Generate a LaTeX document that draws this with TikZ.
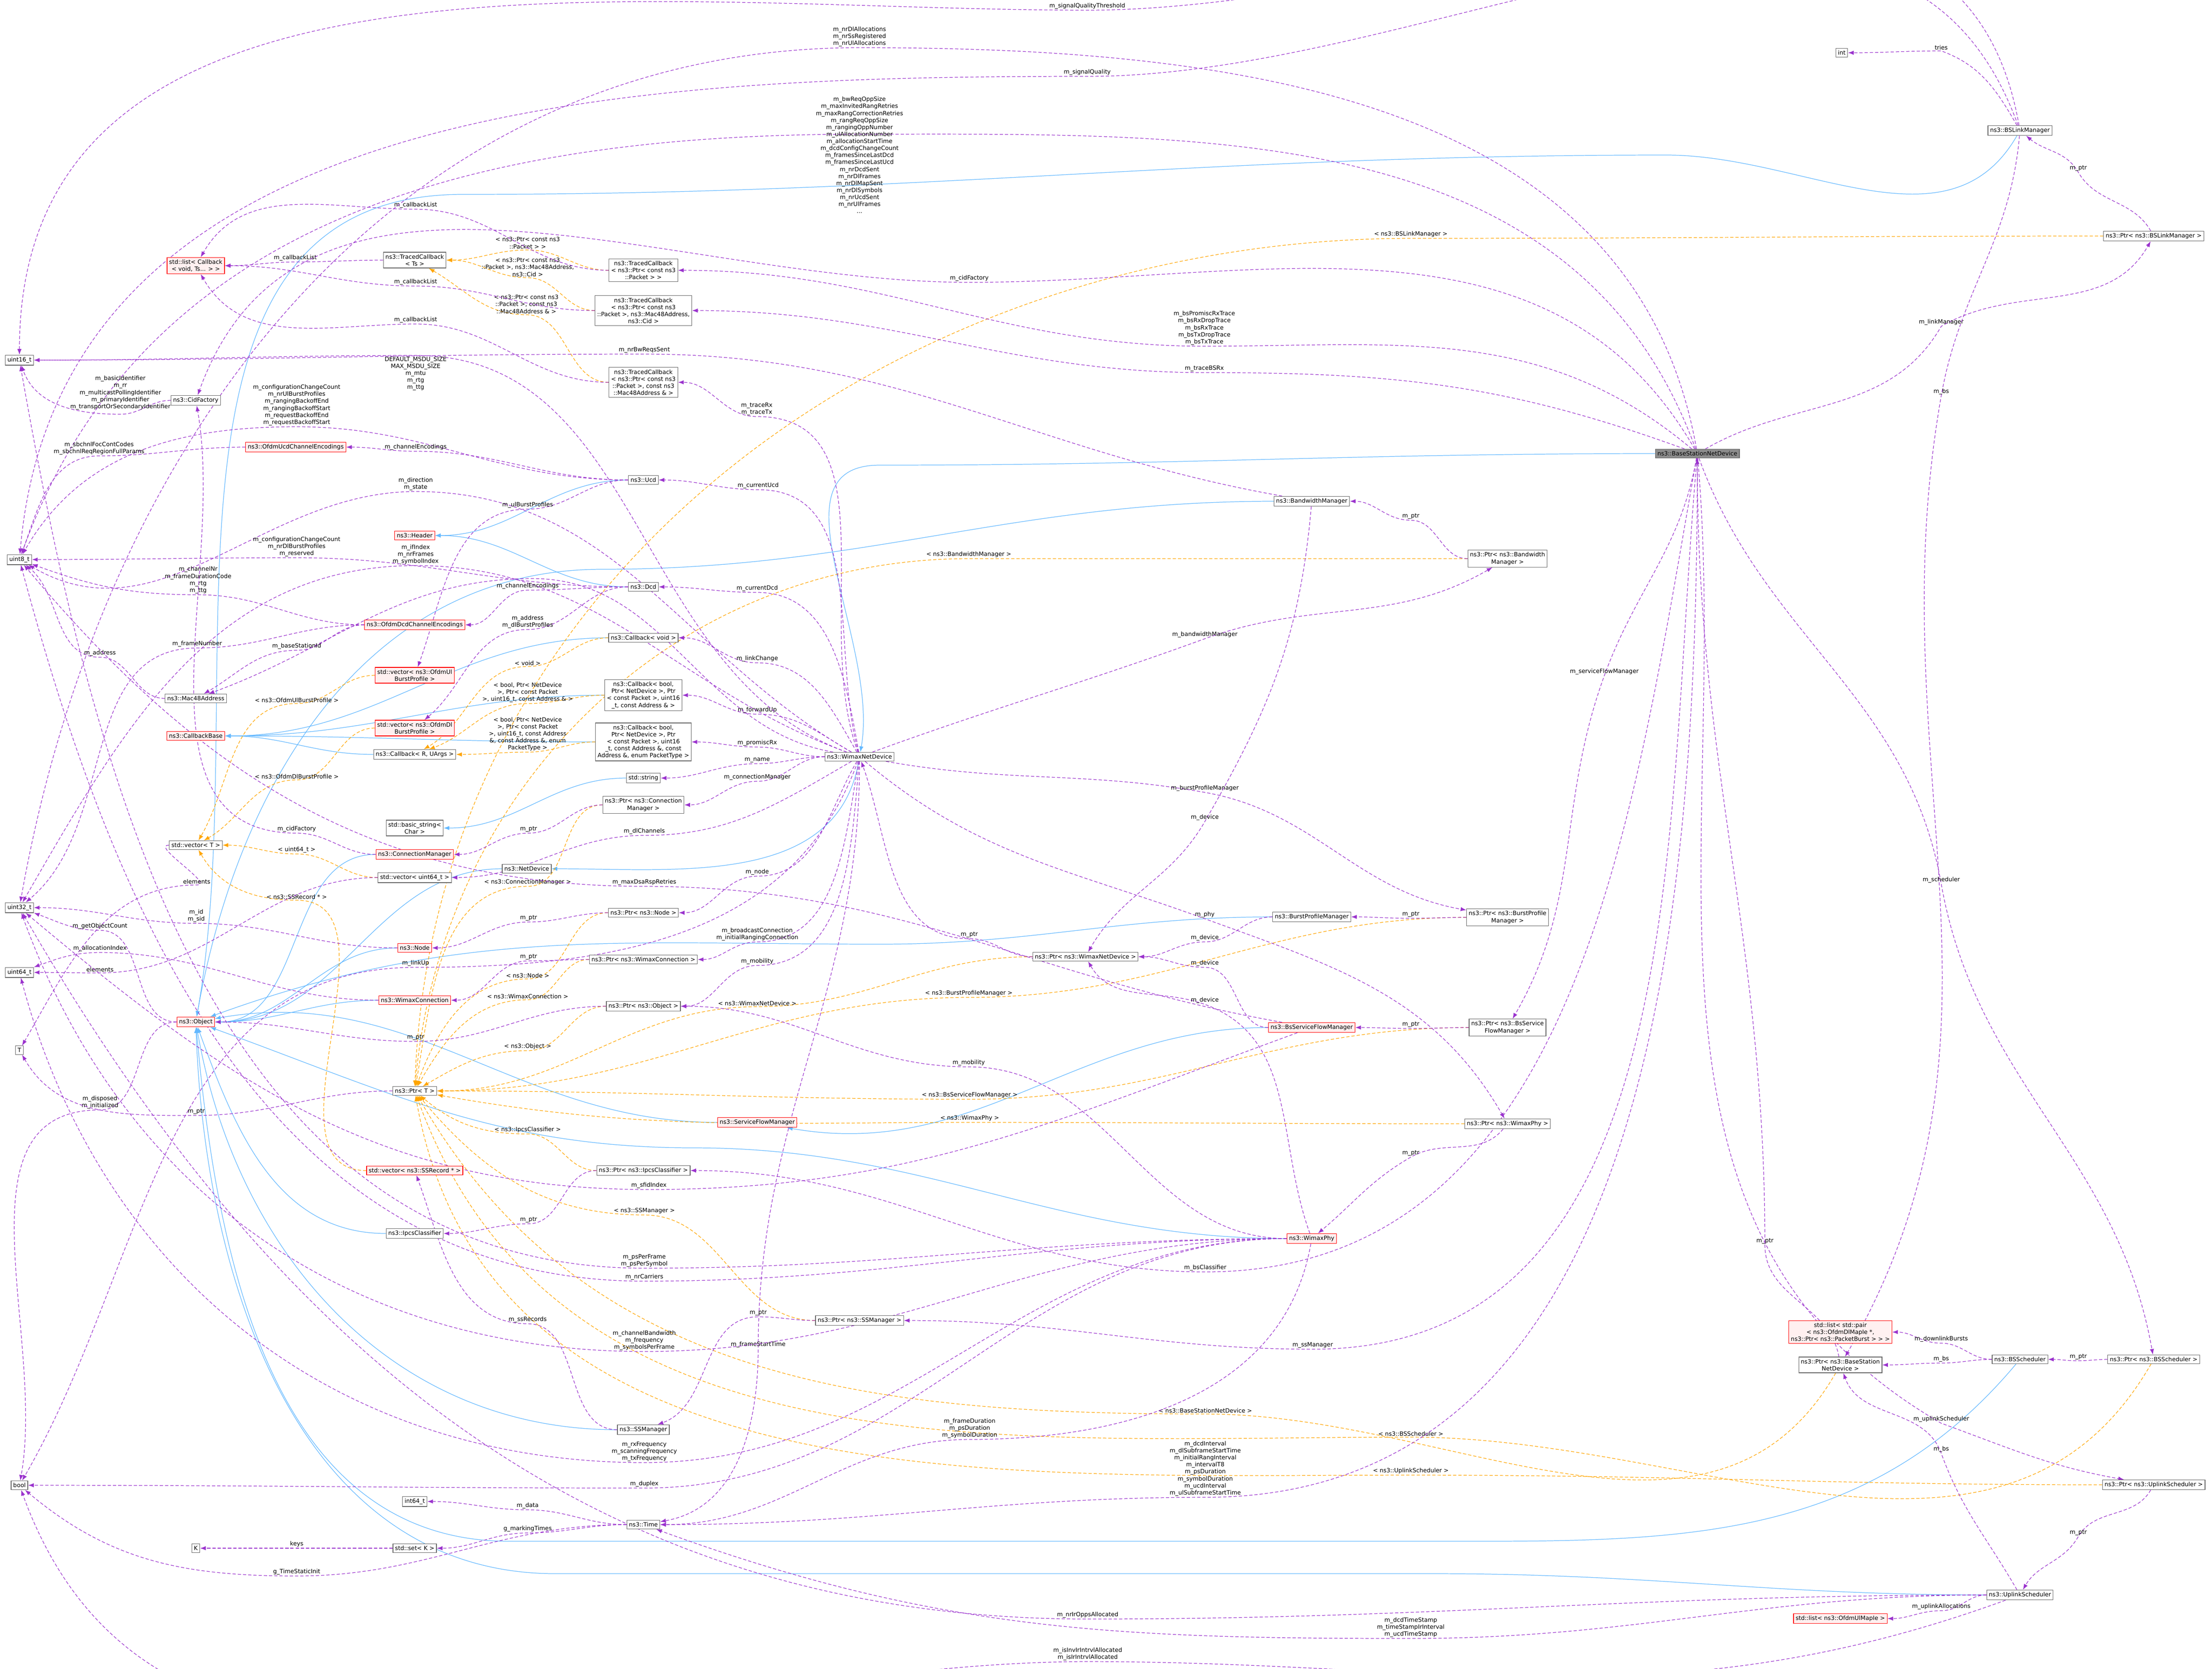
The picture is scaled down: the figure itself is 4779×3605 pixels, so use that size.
\documentclass[tikz,border=0pt]{standalone}
\usepackage{fontspec}
\setmainfont{DejaVu Sans}
\usepackage{tikz}
\usetikzlibrary{arrows.meta}
\pgfdeclarelayer{edges}
\pgfsetlayers{edges,main}
\definecolor{memc}{HTML}{9A32CD}
\definecolor{inhc}{HTML}{63B8FF}
\definecolor{tplc}{HTML}{FFA500}
\tikzset{
	every node/.style={align=center, font=\fontsize{3.6}{4.3}\selectfont},
	%
	cls/.style={draw=black!60, fill=white, line width=0.35pt, inner sep=1.3pt},
	redcls/.style={cls, draw=red, fill=red!6},
	maincls/.style={cls, fill=black!45},
	lbl/.style={inner sep=0.6pt, anchor=south, text=black},
	%
	mem/.style={memc, dashed, dash pattern=on 2pt off 1.2pt, line width=0.35pt,
		-{Latex[length=3.5pt,width=2.6pt]}, out=180, in=0},
	tpl/.style={mem, tplc},
	inh/.style={inhc, line width=0.35pt, -{Latex[length=3.5pt,width=2.6pt]},
		out=180, in=0},
}
\begin{document}
\begin{tikzpicture}[x=0.01cm, y=-0.01cm]
	\useasboundingbox (0,0) rectangle (4779,3605);
	% left column of plain types
	\node (u16) [cls] at (42,778) {uint16\_t};
	\node (u8) [cls] at (42,1209) {uint8\_t};
	\node (u32) [cls] at (42,1961) {uint32\_t};
	\node (u64) [cls] at (42,2101) {uint64\_t};
	\node (tT) [cls] at (42,2269) {T};
	\node (bool) [cls] at (42,3209) {bool};
	% second column
	\node (stdlist) [redcls] at (423,574) {std::list< Callback\\< void, Ts... > >};
	\node (cidf) [cls] at (423,865) {ns3::CidFactory};
	\node (ucdenc) [redcls] at (639,966) {ns3::OfdmUcdChannelEncodings};
	\node (mac) [cls] at (423,1509) {ns3::Mac48Address};
	\node (cbbase) [redcls] at (423,1590) {ns3::CallbackBase};
	\node (vecT) [cls] at (423,1826) {std::vector< T >};
	\node (obj) [redcls] at (423,2208) {ns3::Object};
	\node (K) [cls] at (423,3345) {K};
	% third column
	\node (tcTs) [cls] at (896,562) {ns3::TracedCallback\\< Ts >};
	\node (header) [redcls] at (896,1157) {ns3::Header};
	\node (dcdenc) [redcls] at (896,1350) {ns3::OfdmDcdChannelEncodings};
	\node (vecul) [redcls] at (896,1459) {std::vector< ns3::OfdmUl\\BurstProfile >};
	\node (vecdl) [redcls] at (896,1573) {std::vector< ns3::OfdmDl\\BurstProfile >};
	\node (cbR) [cls] at (896,1630) {ns3::Callback< R, UArgs >};
	\node (bstr) [cls] at (896,1789) {std::basic\_string<\\Char >};
	\node (cm) [redcls] at (896,1846) {ns3::ConnectionManager};
	\node (vecu64) [cls] at (896,1896) {std::vector< uint64\_t >};
	\node (node) [redcls] at (896,2048) {ns3::Node};
	\node (wc) [redcls] at (896,2161) {ns3::WimaxConnection};
	\node (ptrT) [cls] at (896,2357) {ns3::Ptr< T >};
	\node (vecss) [redcls] at (896,2529) {std::vector< ns3::SSRecord * >};
	\node (ipcs) [cls] at (896,2665) {ns3::IpcsClassifier};
	\node (int64) [cls] at (896,3244) {int64\_t};
	\node (setK) [cls] at (896,3345) {std::set< K >};
	\node (netdev) [cls] at (1138,1877) {ns3::NetDevice};
	% fourth column
	\node (tcP) [cls] at (1390,584) {ns3::TracedCallback\\< ns3::Ptr< const ns3\\::Packet > >};
	\node (tcMC) [cls] at (1390,671) {ns3::TracedCallback\\< ns3::Ptr< const ns3\\::Packet >, ns3::Mac48Address,\\ns3::Cid >};
	\node (tcMA) [cls] at (1390,826) {ns3::TracedCallback\\< ns3::Ptr< const ns3\\::Packet >, const ns3\\::Mac48Address \& >};
	\node (ucd) [cls] at (1390,1037) {ns3::Ucd};
	\node (dcd) [cls] at (1390,1268) {ns3::Dcd};
	\node (cbvoid) [cls] at (1390,1378) {ns3::Callback< void >};
	\node (cbfwd) [cls] at (1390,1502) {ns3::Callback< bool,\\Ptr< NetDevice >, Ptr\\< const Packet >, uint16\\\_t, const Address \& >};
	\node (cbprom) [cls] at (1390,1603) {ns3::Callback< bool,\\Ptr< NetDevice >, Ptr\\< const Packet >, uint16\\\_t, const Address \&, const\\Address \&, enum PacketType >};
	\node (str) [cls] at (1390,1681) {std::string};
	\node (ptrcm) [cls] at (1390,1739) {ns3::Ptr< ns3::Connection\\Manager >};
	\node (ptrnode) [cls] at (1390,1972) {ns3::Ptr< ns3::Node >};
	\node (ptrwc) [cls] at (1390,2073) {ns3::Ptr< ns3::WimaxConnection >};
	\node (ptrobj) [cls] at (1390,2174) {ns3::Ptr< ns3::Object >};
	\node (ptripcs) [cls] at (1390,2529) {ns3::Ptr< ns3::IpcsClassifier >};
	\node (ssm) [cls] at (1390,3089) {ns3::SSManager};
	\node (time) [cls] at (1390,3294) {ns3::Time};
	% middle
	\node (wnd) [cls] at (1857,1635) {ns3::WimaxNetDevice};
	\node (sfm) [redcls] at (1636,2425) {ns3::ServiceFlowManager};
	\node (ptrss) [cls] at (1857,2853) {ns3::Ptr< ns3::SSManager >};
	\node (ptrwnd) [cls] at (2345,2067) {ns3::Ptr< ns3::WimaxNetDevice >};
	\node (bwm) [cls] at (2834,1083) {ns3::BandwidthManager};
	\node (bpm) [cls] at (2834,1981) {ns3::BurstProfileManager};
	\node (bsfm) [redcls] at (2834,2220) {ns3::BsServiceFlowManager};
	\node (phy) [redcls] at (2834,2676) {ns3::WimaxPhy};
	\node (ptrbwm) [cls] at (3257,1207) {ns3::Ptr< ns3::Bandwidth\\Manager >};
	\node (ptrbpm) [cls] at (3257,1982) {ns3::Ptr< ns3::BurstProfile\\Manager >};
	\node (ptrbsfm) [cls] at (3257,2220) {ns3::Ptr< ns3::BsService\\FlowManager >};
	\node (ptrphy) [cls] at (3257,2428) {ns3::Ptr< ns3::WimaxPhy >};
	% right part
	\node (bsnd) [maincls] at (3667,980) {ns3::BaseStationNetDevice};
	\node (int) [cls] at (3979,114) {int};
	\node (bslm) [cls] at (4364,282) {ns3::BSLinkManager};
	\node (ptrbslm) [cls] at (4653,510) {ns3::Ptr< ns3::BSLinkManager >};
	\node (dlbursts) [redcls] at (3976,2878) {std::list< std::pair\\< ns3::OfdmDlMapIe *,\\ns3::Ptr< ns3::PacketBurst > > >};
	\node (ptrbsnd) [cls] at (3976,2949) {ns3::Ptr< ns3::BaseStation\\NetDevice >};
	\node (bss) [cls] at (4364,2937) {ns3::BSScheduler};
	\node (ptrbss) [cls] at (4653,2937) {ns3::Ptr< ns3::BSScheduler >};
	\node (ptrul) [cls] at (4653,3208) {ns3::Ptr< ns3::UplinkScheduler >};
	\node (uls) [cls] at (4364,3446) {ns3::UplinkScheduler};
	\node (ulmap) [redcls] at (3976,3497) {std::list< ns3::OfdmUlMapIe >};

	\begin{pgfonlayer}{edges}
	% inheritance
	\draw [inh] (ucd) to (header);
	\draw [inh] (dcd) to (header);
	\draw [inh] (cbvoid) to (cbbase);
	\draw [inh] (cbfwd) to (cbbase);
	\draw [inh] (cbprom) to (cbbase);
	\draw [inh] (cbR) to (cbbase);
	\draw [inh] (str) to (bstr);
	\draw [inh] (cm) to (obj);
	\draw [inh] (node) to (obj);
	\draw [inh] (wc) to (obj);
	\draw [inh] (netdev) to (obj);
	\draw [inh] (wnd) to[out=-100] (netdev);
	\draw [inh] (bsnd) to[out=180] (1900,1005) to[out=180,in=80] (wnd);
	\draw [inh] (bslm) to[out=-120] (3600,335) to (1000,420) to[out=180,in=80] (obj);
	\draw [inh] (bwm) to (1300,1230) to[out=180,in=80] (obj);
	\draw [inh] (bpm) to (1900,2040) to[out=180,in=20] (obj);
	\draw [inh] (sfm) to[in=10] (obj);
	\draw [inh] (bsfm) to[in=-10] (sfm);
	\draw [inh] (ipcs) to[in=-70] (obj);
	\draw [inh] (ssm) to[in=-80] (obj);
	\draw [inh] (phy) to (1500,2480) to[out=180,in=-20] (obj);
	\draw [inh] (bss) to[out=-130] (3100,3330) to (1100,3330) to[out=180,in=-85] (obj);
	\draw [inh] (uls) to (3100,3400) to (1200,3400) to[out=180,in=-88] (obj);
	% template instances
	\draw [tpl] (tcP) to (1140,540) node [lbl] {< ns3::Ptr< const ns3\\::Packet > >} to (tcTs);
	\draw [tpl] (tcMC) to (1140,600) node [lbl] {< ns3::Ptr< const ns3\\::Packet >, ns3::Mac48Address,\\ns3::Cid >} to (tcTs);
	\draw [tpl] (tcMA) to (1137,680) node [lbl] {< ns3::Ptr< const ns3\\::Packet >, const ns3\\::Mac48Address \& >} to[in=-30] (tcTs);
	\draw [tpl] (vecul) to (641,1520) node [lbl] {< ns3::OfdmUlBurstProfile >} to[in=60] (vecT);
	\draw [tpl] (vecdl) to (641,1685) node [lbl] {< ns3::OfdmDlBurstProfile >} to[in=30] (vecT);
	\draw [tpl] (vecu64) to (641,1845) node [lbl] {< uint64\_t >} to (vecT);
	\draw [tpl] (vecss) to (641,1945) node [lbl] {< ns3::SSRecord * >} to[in=-60] (vecT);
	\draw [tpl] (cbvoid) to (1140,1440) node [lbl] {< void >} to[in=30] (cbR);
	\draw [tpl] (cbfwd) to (1140,1520) node [lbl] {< bool, Ptr< NetDevice\\>, Ptr< const Packet\\>, uint16\_t, const Address \& >} to[in=20] (cbR);
	\draw [tpl] (cbprom) to (1140,1625) node [lbl] {< bool, Ptr< NetDevice\\>, Ptr< const Packet\\>, uint16\_t, const Address\\\&, const Address \&, enum\\PacketType >} to (cbR);
	\draw [tpl] (ptrcm) to (1140,1915) node [lbl] {< ns3::ConnectionManager >} to[in=80] (ptrT);
	\draw [tpl] (ptrnode) to (1140,2115) node [lbl] {< ns3::Node >} to[in=70] (ptrT);
	\draw [tpl] (ptrwc) to (1140,2160) node [lbl] {< ns3::WimaxConnection >} to[in=60] (ptrT);
	\draw [tpl] (ptrobj) to (1140,2270) node [lbl] {< ns3::Object >} to[in=30] (ptrT);
	\draw [tpl] (ptripcs) to (1140,2450) node [lbl] {< ns3::IpcsClassifier >} to[in=-40] (ptrT);
	\draw [tpl] (ptrss) to (1392,2625) node [lbl] {< ns3::SSManager >} to[in=-50] (ptrT);
	\draw [tpl] (ptrwnd) to (1636,2175) node [lbl] {< ns3::WimaxNetDevice >} to (ptrT);
	\draw [tpl] (ptrbpm) to (2093,2155) node [lbl] {< ns3::BurstProfileManager >} to (ptrT);
	\draw [tpl] (ptrbsfm) to (2095,2375) node [lbl] {< ns3::BsServiceFlowManager >} to (ptrT);
	\draw [tpl] (ptrphy) to (2095,2425) node [lbl] {< ns3::WimaxPhy >} to[in=-10] (ptrT);
	\draw [tpl] (ptrbsnd) to[out=-120] (2604,3055) node [lbl] {< ns3::BaseStationNetDevice >} to[in=-60] (ptrT);
	\draw [tpl] (ptrbss) to[out=-120] (3048,3105) node [lbl] {< ns3::BSScheduler >} to[in=-70] (ptrT);
	\draw [tpl] (ptrul) to (3048,3187) node [lbl] {< ns3::UplinkScheduler >} to[in=-80] (ptrT);
	\draw [tpl] (ptrbwm) to (2093,1207) node [lbl] {< ns3::BandwidthManager >} to[in=85] (ptrT);
	\draw [tpl] (ptrbslm) to (3048,515) node [lbl] {< ns3::BSLinkManager >} to[in=88] (ptrT);
	% members: callbacks and traces
	\draw [mem] (tcP) to (898,452) node [lbl] {m\_callbackList} to[in=60] (stdlist);
	\draw [mem] (tcTs) to (638,566) node [lbl] {m\_callbackList} to (stdlist);
	\draw [mem] (tcMC) to (898,618) node [lbl] {m\_callbackList} to (stdlist);
	\draw [mem] (tcMA) to (898,700) node [lbl] {m\_callbackList} to[in=-60] (stdlist);
	% members: BaseStationNetDevice and BSLinkManager
	\draw [mem] (bslm) to[out=100] (2349,22) node [lbl] {m\_signalQualityThreshold} to[in=90] (u16);
	\draw [mem] (bsnd) to[out=100] (1857,103) node [lbl] {m\_nrDlAllocations\\m\_nrSsRegistered\\m\_nrUlAllocations} to[in=80] (u32);
	\draw [mem] (bslm) to[out=110] (2349,165) node [lbl] {m\_signalQuality} to[in=85] (u8);
	\draw [mem] (bsnd) to[out=110] (1857,290) node [lbl, anchor=center, yshift=-0.45cm] {m\_bwReqOppSize\\m\_maxInvitedRangRetries\\m\_maxRangCorrectionRetries\\m\_rangReqOppSize\\m\_rangingOppNumber\\m\_ulAllocationNumber\\m\_allocationStartTime\\m\_dcdConfigChangeCount\\m\_framesSinceLastDcd\\m\_framesSinceLastUcd\\m\_nrDcdSent\\m\_nrDlFrames\\m\_nrDlMapSent\\m\_nrDlSymbols\\m\_nrUcdSent\\m\_nrUlFrames\\...} to[in=70] (u8);
	\draw [mem] (bsnd) to[out=120] (2094,610) node [lbl] {m\_cidFactory} to[in=70] (cidf);
	\draw [mem] (bsnd) to[out=140] (2602,748) node [lbl] {m\_bsPromiscRxTrace\\m\_bsRxDropTrace\\m\_bsRxTrace\\m\_bsTxDropTrace\\m\_bsTxTrace} to (tcP);
	\draw [mem] (bsnd) to[out=160] (2602,805) node [lbl] {m\_traceBSRx} to (tcMC);
	\draw [mem] (bsnd) to[out=30, in=-120] (4194,705) node [lbl] {m\_linkManager} to[out=30, in=-120] (ptrbslm);
	\draw [mem] (ptrbslm) to[out=120, in=-60] (4490,372) node [lbl] {m\_ptr} to[out=120, in=-40] (bslm);
	\draw [mem] (bslm) to[out=120, in=-20] (4194,110) node [lbl] {tries} to (int);
	\draw [mem] (bslm) to[out=-95, in=80] (4194,855) node [lbl] {m\_bs} to[out=-100, in=60] (ptrbsnd);
	\draw [mem] (ptrbwm) to (3048,1124) node [lbl] {m\_ptr} to (bwm);
	\draw [mem] (bsnd) to[out=-100, in=70] (3466,1460) node [lbl] {m\_serviceFlowManager} to[out=-110, in=60] (ptrbsfm);
	\draw [mem] (bsnd) to[out=-70, in=100] (4194,1910) node [lbl] {m\_scheduler} to[out=-80, in=100] (ptrbss);
	\draw [mem] (bsnd) to[out=-95, in=0] (2836,2915) node [lbl] {m\_ssManager} to (ptrss);
	\draw [mem] (bsnd) to[out=-100, in=0] (2604,2748) node [lbl] {m\_bsClassifier} to (ptripcs);
	\draw [mem] (bsnd) to[out=-90, in=0] (2604,3235) node [lbl] {m\_dcdInterval\\m\_dlSubframeStartTime\\m\_initialRangInterval\\m\_intervalT8\\m\_psDuration\\m\_symbolDuration\\m\_ucdInterval\\m\_ulSubframeStartTime} to (time);
	\draw [mem] (bsnd) to[out=-85, in=150] (4194,3075) node [lbl] {m\_uplinkScheduler} to[out=-20, in=170] (ptrul);
	\draw [mem] (ptrbsnd) to[out=100, in=-90] (3813,2690) node [lbl] {m\_ptr} to[out=90, in=-90] (bsnd);
	\draw [mem] (bss) to (4194,2945) node [lbl] {m\_bs} to (ptrbsnd);
	\draw [mem] (bss) to (4194,2902) node [lbl] {m\_downlinkBursts} to (dlbursts);
	\draw [mem] (ptrbss) to (4490,2940) node [lbl] {m\_ptr} to (bss);
	\draw [mem] (ptrul) to[out=-120, in=60] (4490,3320) node [lbl] {m\_ptr} to[out=-120, in=60] (uls);
	\draw [mem] (uls) to[out=120, in=-70] (4194,3140) node [lbl] {m\_bs} to[out=110, in=-70] (ptrbsnd);
	\draw [mem] (uls) to (4194,3480) node [lbl] {m\_uplinkAllocations} to (ulmap);
	\draw [mem] (uls) to (2350,3498) node [lbl] {m\_nrIrOppsAllocated} to[in=-60] (u32);
	\draw [mem] (uls) to (3048,3540) node [lbl] {m\_dcdTimeStamp\\m\_timeStampIrInterval\\m\_ucdTimeStamp} to[in=-20] (time);
	\draw [mem] (uls) to[out=-160, in=0] (2350,3590) node [lbl] {m\_isInvIrIntrvlAllocated\\m\_isIrIntrvlAllocated} to[in=-70] (bool);
	% members: WimaxNetDevice and managers
	\draw [mem] (wnd) to[out=20, in=-160] (2603,1380) node [lbl] {m\_bandwidthManager} to[out=20, in=-150] (ptrbwm);
	\draw [mem] (wnd) to[out=-10, in=170] (2603,1712) node [lbl] {m\_burstProfileManager} to[out=-10, in=170] (ptrbpm);
	\draw [mem] (bwm) to[out=-95, in=60] (2603,1775) node [lbl] {m\_device} to[out=-120, in=60] (ptrwnd);
	\draw [mem] (wnd) to[out=-40, in=160] (2603,1985) node [lbl] {m\_phy} to[out=-20, in=120] (ptrphy);
	\draw [mem] (bpm) to (2603,2035) node [lbl] {m\_device} to (ptrwnd);
	\draw [mem] (bsfm) to (2603,2090) node [lbl] {m\_device} to (ptrwnd);
	\draw [mem] (phy) to[out=110, in=-20] (2603,2170) node [lbl] {m\_device} to[out=160, in=-60] (ptrwnd);
	\draw [mem] (ptrwnd) to (2094,2028) node [lbl] {m\_ptr} to[in=-70] (wnd);
	\draw [mem] (phy) to (2093,2305) node [lbl] {m\_mobility} to (ptrobj);
	\draw [mem] (ptrbpm) to (3048,1984) node [lbl] {m\_ptr} to (bpm);
	\draw [mem] (ptrbsfm) to (3048,2222) node [lbl] {m\_ptr} to (bsfm);
	\draw [mem] (ptrphy) to[out=-130, in=30] (3048,2500) node [lbl] {m\_ptr} to[out=-150, in=40] (phy);
	\draw [mem] (wnd) to[out=110] (1635,900) node [lbl] {m\_traceRx\\m\_traceTx} to (tcMA);
	\draw [mem] (wnd) to[out=105] (1638,1058) node [lbl] {m\_currentUcd} to (ucd);
	\draw [mem] (wnd) to[out=100] (1636,1280) node [lbl] {m\_currentDcd} to (dcd);
	\draw [mem] (wnd) to[out=120] (1636,1432) node [lbl] {m\_linkChange} to (cbvoid);
	\draw [mem] (wnd) to[out=150] (1636,1543) node [lbl] {m\_forwardUp} to (cbfwd);
	\draw [mem] (wnd) to (1636,1614) node [lbl] {m\_promiscRx} to (cbprom);
	\draw [mem] (wnd) to (1636,1650) node [lbl] {m\_name} to (str);
	\draw [mem] (wnd) to (1636,1688) node [lbl] {m\_connectionManager} to (ptrcm);
	\draw [mem] (wnd) to[out=-150] (1392,1805) node [lbl] {m\_dlChannels} to (vecu64);
	\draw [mem] (wnd) to[out=-120] (1636,1893) node [lbl] {m\_node} to (ptrnode);
	\draw [mem] (wnd) to[out=-100] (1636,2035) node [lbl] {m\_broadcastConnection\\m\_initialRangingConnection} to (ptrwc);
	\draw [mem] (wnd) to[out=-95] (1636,2086) node [lbl] {m\_mobility} to (ptrobj);
	\draw [mem] (wnd) to[out=-90, in=90] (1638,2914) node [lbl] {m\_frameStartTime} to[out=-90, in=10] (time);
	\draw [mem] (wnd) to[out=160] (898,768) node [lbl, anchor=north] {DEFAULT\_MSDU\_SIZE\\MAX\_MSDU\_SIZE\\m\_mtu\\m\_rtg\\m\_ttg} to (u16);
	\draw [mem] (wnd) to[out=150] (898,1062) node [lbl] {m\_direction\\m\_state} to[in=-30] (u8);
	\draw [mem] (wnd) to[out=160] (898,1222) node [lbl] {m\_ifIndex\\m\_nrFrames\\m\_symbolIndex} to[in=60] (u32);
	\draw [mem] (wnd) to[out=170] (1150,1250) to[in=20] (mac);
	\draw [mem] (wnd) to[out=-110] (898,2090) node [lbl] {m\_linkUp} to[in=60] (bool);
	\draw [mem] (bwm) to[out=170] (1392,765) node [lbl] {m\_nrBwReqsSent} to (u16);
	% members: headers and encodings
	\draw [mem] (cidf) to (260,895) node [lbl, anchor=south, yshift=2pt] {m\_basicIdentifier\\m\_rr\\m\_multicastPollingIdentifier\\m\_primaryIdentifier\\m\_transportOrSecondaryIdentifier} to[in=-70] (u16);
	\draw [mem] (ucd) to (641,922) node [lbl] {m\_configurationChangeCount\\m\_nrUlBurstProfiles\\m\_rangingBackoffEnd\\m\_rangingBackoffStart\\m\_requestBackoffEnd\\m\_requestBackoffStart} to[in=60] (u8);
	\draw [mem] (ucdenc) to (214,985) node [lbl] {m\_sbchnlFocContCodes\\m\_sbchnlReqRegionFullParams} to[in=70] (u8);
	\draw [mem] (ucd) to (898,975) node [lbl] {m\_channelEncodings} to (ucdenc);
	\draw [mem] (ucd) to (1140,1100) node [lbl] {m\_ulBurstProfiles} to[in=70] (vecul);
	\draw [mem] (dcd) to (641,1205) node [lbl] {m\_configurationChangeCount\\m\_nrDlBurstProfiles\\m\_reserved} to (u8);
	\draw [mem] (dcdenc) to (428,1285) node [lbl] {m\_channelNr\\m\_frameDurationCode\\m\_rtg\\m\_ttg} to[in=-20] (u8);
	\draw [mem] (dcd) to (1140,1275) node [lbl] {m\_channelEncodings} to (dcdenc);
	\draw [mem] (dcdenc) to (426,1400) node [lbl] {m\_frameNumber} to[in=40] (u32);
	\draw [mem] (dcdenc) to (641,1405) node [lbl] {m\_baseStationId} to[in=30] (mac);
	\draw [mem] (mac) to (216,1420) node [lbl] {m\_address} to[in=-40] (u8);
	\draw [mem] (dcd) to (1140,1360) node [lbl] {m\_address\\m\_dlBurstProfiles} to[in=40] (vecdl);
	\draw [mem] (ptrcm) to (1142,1800) node [lbl] {m\_ptr} to (cm);
	\draw [mem] (cm) to (641,1800) node [lbl] {m\_cidFactory} to[in=-80] (cidf);
	\draw [mem] (vecu64) to (216,2102) node [lbl] {elements} to (u64);
	\draw [mem] (vecT) to (425,1912) node [lbl] {elements} to[in=60] (tT);
	\draw [mem] (bsfm) to[out=170] (1392,1915) node [lbl] {m\_maxDsaRspRetries} to[in=-50] (u8);
	\draw [mem] (node) to (424,1995) node [lbl] {m\_id\\m\_sid} to (u32);
	\draw [mem] (obj) to (216,2010) node [lbl] {m\_getObjectCount} to[in=-20] (u32);
	\draw [mem] (wc) to (216,2058) node [lbl] {m\_allocationIndex} to[in=20] (u64);
	\draw [mem] (ptrnode) to (1142,1992) node [lbl] {m\_ptr} to (node);
	\draw [mem] (ptrwc) to (1142,2076) node [lbl] {m\_ptr} to (wc);
	\draw [mem] (ptrobj) to (898,2250) node [lbl] {m\_ptr} to (obj);
	\draw [mem] (obj) to (216,2398) node [lbl] {m\_disposed\\m\_initialized} to[in=80] (bool);
	\draw [mem] (ptrT) to (424,2410) node [lbl] {m\_ptr} to[in=-60] (tT);
	% members: lower part
	\draw [mem] (bsfm) to[out=-160] (1402,2570) node [lbl] {m\_sfidIndex} to[in=-40] (u32);
	\draw [mem] (ptripcs) to (1142,2644) node [lbl] {m\_ptr} to (ipcs);
	\draw [mem] (phy) to (1392,2740) node [lbl] {m\_psPerFrame\\m\_psPerSymbol} to[in=-80] (u16);
	\draw [mem] (phy) to (1392,2768) node [lbl] {m\_nrCarriers} to[in=-75] (u8);
	\draw [mem] (phy) to (1392,2920) node [lbl] {m\_channelBandwidth\\m\_frequency\\m\_symbolsPerFrame} to[in=-70] (u32);
	\draw [mem] (phy) to (1392,3160) node [lbl] {m\_rxFrequency\\m\_scanningFrequency\\m\_txFrequency} to[in=-75] (u64);
	\draw [mem] (phy) to (1392,3215) node [lbl] {m\_duplex} to (bool);
	\draw [mem] (phy) to[out=-100] (2095,3110) node [lbl] {m\_frameDuration\\m\_psDuration\\m\_symbolDuration} to (time);
	\draw [mem] (ssm) to (1140,2860) node [lbl] {m\_ssRecords} to[in=-70] (vecss);
	\draw [mem] (ptrss) to (1638,2845) node [lbl] {m\_ptr} to[in=20] (ssm);
	\draw [mem] (time) to (1140,3262) node [lbl] {m\_data} to (int64);
	\draw [mem] (time) to (1140,3312) node [lbl] {g\_markingTimes} to (setK);
	\draw [mem] (setK) to (641,3345) node [lbl] {keys} to (K);
	\draw [mem] (time) to (641,3405) node [lbl] {g\_TimeStaticInit} to[in=-40] (bool);
	\end{pgfonlayer}
\end{tikzpicture}
\end{document}
